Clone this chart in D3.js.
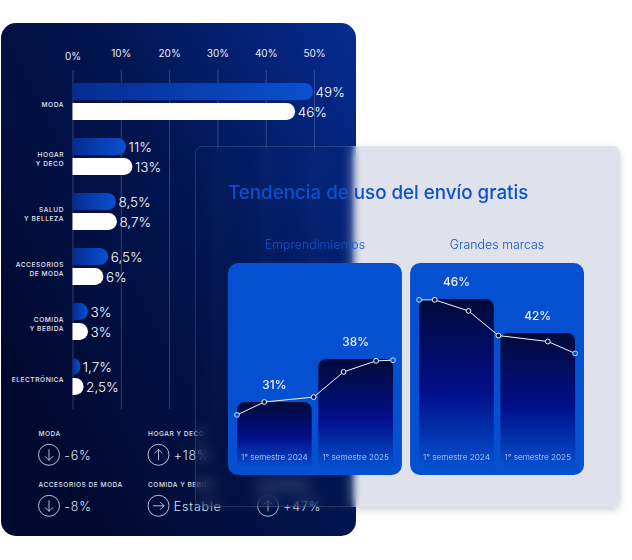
<!DOCTYPE html>
<html>
<head>
<meta charset="utf-8">
<script src="https://cdn.jsdelivr.net/npm/d3@7"></script>
<style>
    body { margin: 0; background: #fff; font-family: Inter, sans-serif; }
    #wrap { position: relative; width: 632px; height: 560px; overflow: hidden; }
    svg { position: absolute; left: 0; top: 0; }
    #glass {
        position: absolute; left: 195px; top: 146px; width: 425px; height: 361px;
        box-sizing: border-box; border: 1px solid rgba(255,255,255,.13); border-radius: 7px;
        backdrop-filter: blur(7px); box-shadow: 0 3px 7px rgba(40,50,80,.22);
    }
</style>
</head>
<body>
<div id="wrap">
    <svg id="back" width="632" height="560"></svg>
    <div id="glass"></div>
    <svg id="front" width="632" height="560"></svg>
</div>
<script>
// Bar chart data (lengths, labels as printed)
let categories = ["MODA", "HOGAR|Y DECO", "SALUD|Y BELLEZA", "ACCESORIOS|DE MODA", "COMIDA|Y BEBIDA", "ELECTRÓNICA"];
let blueValues = [49.8, 11.1, 9, 7.4, 3.2, 1.6];
let whiteValues = [46.1, 12.4, 9.2, 6.4, 3.2, 2.3];
let blueLabels = ["49%", "11%", "8,5%", "6,5%", "3%", "1,7%"];
let whiteLabels = ["46%", "13%", "8,7%", "6%", "3%", "2,5%"];
let axisTicks = [0, 10, 20, 30, 40, 50];

// Change summary under the bars (the slot behind the panels can't be read)
let changeNames = ["MODA", "HOGAR Y DECO", null, "ACCESORIOS DE MODA", "COMIDA Y BEBIDA", "ELECTRÓNICA"];
let changeValues = ["-6%", "+18%", null, "-8%", "Estable", "+47%"];
let changeArrows = [180, 0, null, 180, 90, 0];

// Trend panels
let panelNames = ["Emprendimientos", "Grandes marcas"];
let semesters = ["1° semestre 2024", "1° semestre 2025"];
let emprendBars = [31, 38];
let grandesBars = [46, 42];
let emprendMonths = [0, 2.1, 5.9, 8.2, 10.7, 12];
let emprendLine = [28.9, 31, 31.8, 35.9, 37.7, 37.8];
let grandesMonths = [0, 1.2, 3.8, 6.1, 9.9, 12];
let grandesLine = [45.9, 45.9, 44.6, 41.7, 41, 39.6];

let back = d3.select("#back");
let front = d3.select("#front");

// Gradients
let defs = back.append("defs");
function addGradient(parent, id, coords, stops) {
    let g = parent.append("linearGradient").attr("id", id);
    Object.entries(coords).forEach(([k, v]) => g.attr(k, v));
    stops.forEach(s => g.append("stop").attr("offset", s[0]).attr("stop-color", s[1]).attr("stop-opacity", s[2] === undefined ? 1 : s[2]));
}
addGradient(defs, "cardFill", { x1: 0.05, y1: 0.7, x2: 1, y2: 0 }, [[0, "#010930"], [0.5, "#021550"], [1, "#052c92"]]);
addGradient(defs, "barFill", { x1: 0, y1: 0, x2: 1, y2: 0 }, [[0, "#052c90"], [1, "#0a50d2"]]);

// Dark card
back.append("rect").attr("x", 1).attr("y", 23).attr("width", 355).attr("height", 513).attr("rx", 15).attr("fill", "url(#cardFill)");

// Axis and grid
let x = d3.scaleLinear().domain([0, 50]).range([72.5, 314]);
let axis = back.append("g").attr("transform", "translate(0,70)")
    .call(d3.axisTop(x).tickValues(axisTicks).tickFormat(d => d + "%").tickSize(-339).tickPadding(13));
axis.select(".domain").remove();
axis.selectAll("line").attr("stroke", "rgba(255,255,255,.2)");
axis.selectAll("text").attr("fill", "#e6ebf8").attr("font-size", 10).attr("font-family", "Inter, sans-serif")
    .attr("font-weight", 400)
    .attr("dy", d => d == 0 ? "0.3em" : "0");

// Bars
let y = d3.scaleBand().domain(categories).range([74, 404]);
let barH = 17;

function barPath(x0, x1, top) {
    let r = Math.min(barH / 2, x1 - x0);
    let p = d3.path();
    p.moveTo(x0, top);
    p.lineTo(x1 - r, top);
    p.arcTo(x1, top, x1, top + r, r);
    p.lineTo(x1, top + barH - r);
    p.arcTo(x1, top + barH, x1 - r, top + barH, r);
    p.lineTo(x0, top + barH);
    p.closePath();
    return p.toString();
}

categories.forEach((c, i) => {
    let mid = y(c) + y.bandwidth() / 2;

    back.append("path").attr("d", barPath(x(0), x(blueValues[i]), mid - 18.5)).attr("fill", "url(#barFill)");
    back.append("path").attr("d", barPath(x(0), x(whiteValues[i]), mid + 1.5)).attr("fill", "#fff");

    back.append("text").attr("x", x(blueValues[i]) + 2.5).attr("y", mid - 5)
        .attr("fill", "#fff").attr("font-size", 13.5).attr("font-weight", 300).text(blueLabels[i]);
    back.append("text").attr("x", x(whiteValues[i]) + 2.5).attr("y", mid + 15.5)
        .attr("fill", "#fff").attr("font-size", 13.5).attr("font-weight", 300).text(whiteLabels[i]);

    let lines = c.split("|");
    lines.forEach((l, k) => {
        back.append("text").attr("x", 64).attr("y", mid + 5 + (k - (lines.length - 1) / 2) * 8.3)
            .attr("text-anchor", "end").attr("fill", "#e2e8f6").attr("font-size", 6.6)
            .attr("font-weight", 500).attr("letter-spacing", 0.55).text(l);
    });
});

// Change summary
let colX = d3.scalePoint().domain([0, 1, 2]).range([38.5, 257.5]);
let rowY = d3.scalePoint().domain([0, 1]).range([436, 487]);

changeNames.forEach((name, i) => {
    if (!name) return;
    let g = back.append("g").attr("transform", `translate(${colX(i % 3)},${rowY(Math.floor(i / 3))})`);
    g.append("text").attr("y", 0).attr("fill", "#dbe2f2").attr("font-size", 6.6).attr("font-weight", 500)
        .attr("letter-spacing", 0.5).text(name);
    let icon = g.append("g").attr("transform", `translate(10.5,18.8) rotate(${changeArrows[i]})`)
        .attr("fill", "none").attr("stroke", "#e4e9f6").attr("stroke-width", 0.8);
    icon.append("circle").attr("r", 10.5);
    icon.append("path").attr("d", "M0,5.5V-5.5M-4,-1.5L0,-5.5L4,-1.5");
    g.append("text").attr("x", 25.8).attr("y", 23.5).attr("fill", "#dfe5f4").attr("font-size", 12.5)
        .attr("font-weight", 300).attr("letter-spacing", 0.8).text(changeValues[i]);
});

// Light part of the glass card
let fdefs = front.append("defs");
addGradient(fdefs, "glassFill", { gradientUnits: "userSpaceOnUse", x1: 351, y1: 0, x2: 362, y2: 0 },
    [[0, "#dfe2ea", 0], [1, "#dfe2ea", 1]]);
addGradient(fdefs, "columnFill", { x1: 0, y1: 0, x2: 0, y2: 1 },
    [[0, "#010a38"], [0.55, "#020f8a"], [0.8, "#0332ae"], [1, "#0450d0"]]);

front.append("path")
    .attr("d", "M351,146H613a7,7 0 0 1 7,7V500a7,7 0 0 1 -7,7H351Z")
    .attr("fill", "url(#glassFill)");

front.append("text").attr("x", 228).attr("y", 199).attr("fill", "#0b50cc").attr("font-size", 18.75)
    .attr("font-weight", 500).text("Tendencia de uso del envío gratis");

// Trend panels
let panelX = d3.scaleBand().domain(panelNames).range([228, 584]).paddingInner(0.045);
let panelTop = 263, panelBottom = 475, columnBottom = 467;

function drawPanel(name, barValues, yDomain, yRange, months, lineValues) {
    let px = panelX(name);
    let pw = panelX.bandwidth();

    front.append("text").attr("x", px + pw / 2).attr("y", 249).attr("text-anchor", "middle")
        .attr("fill", "#1155cf").attr("font-size", 12.4).attr("font-weight", 300).text(name);
    front.append("rect").attr("x", px).attr("y", panelTop).attr("width", pw).attr("height", panelBottom - panelTop)
        .attr("rx", 10).attr("fill", "#0450d0");

    let left = px + 9, right = px + 165;
    let cx = d3.scaleBand().domain(semesters).range([left, right]).paddingInner(0.08);
    let cy = d3.scaleLinear().domain(yDomain).range(yRange);
    let mx = d3.scaleLinear().domain([0, 12]).range([left, right]);

    semesters.forEach((s, i) => {
        let top = cy(barValues[i]);
        let w = cx.bandwidth();
        front.append("path")
            .attr("d", `M${cx(s)},${columnBottom}V${top + 8}a8,8 0 0 1 8,-8H${cx(s) + w - 8}a8,8 0 0 1 8,8V${columnBottom}Z`)
            .attr("fill", "url(#columnFill)");
        front.append("text").attr("x", cx(s) + w / 2).attr("y", top - 13.5).attr("text-anchor", "middle")
            .attr("fill", "#eef3ff").attr("font-size", 11.8).attr("font-weight", 500).text(barValues[i] + "%");
        front.append("text").attr("x", cx(s) + w / 2).attr("y", 459.5).attr("text-anchor", "middle")
            .attr("fill", "#c9d8fb").attr("font-size", 8.2).attr("font-weight", 300).text(s);
    });

    let line = d3.line().x((d, i) => mx(months[i])).y(d => cy(d));
    front.append("path").attr("d", line(lineValues)).attr("fill", "none").attr("stroke", "#f1f5ff").attr("stroke-width", 1);
    lineValues.forEach((v, i) => {
        let outer = i == 0 || i == lineValues.length - 1;
        front.append("circle").attr("cx", mx(months[i])).attr("cy", cy(v)).attr("r", 2.4)
            .attr("fill", outer ? "#0450d0" : "#020f4a")
            .attr("stroke", outer ? "#bfe0ff" : "#f1f5ff").attr("stroke-width", 1);
    });
}

drawPanel(panelNames[0], emprendBars, [31, 38], [402, 359], emprendMonths, emprendLine);
drawPanel(panelNames[1], grandesBars, [42, 46], [333, 299], grandesMonths, grandesLine);
</script>
</body>
</html>
